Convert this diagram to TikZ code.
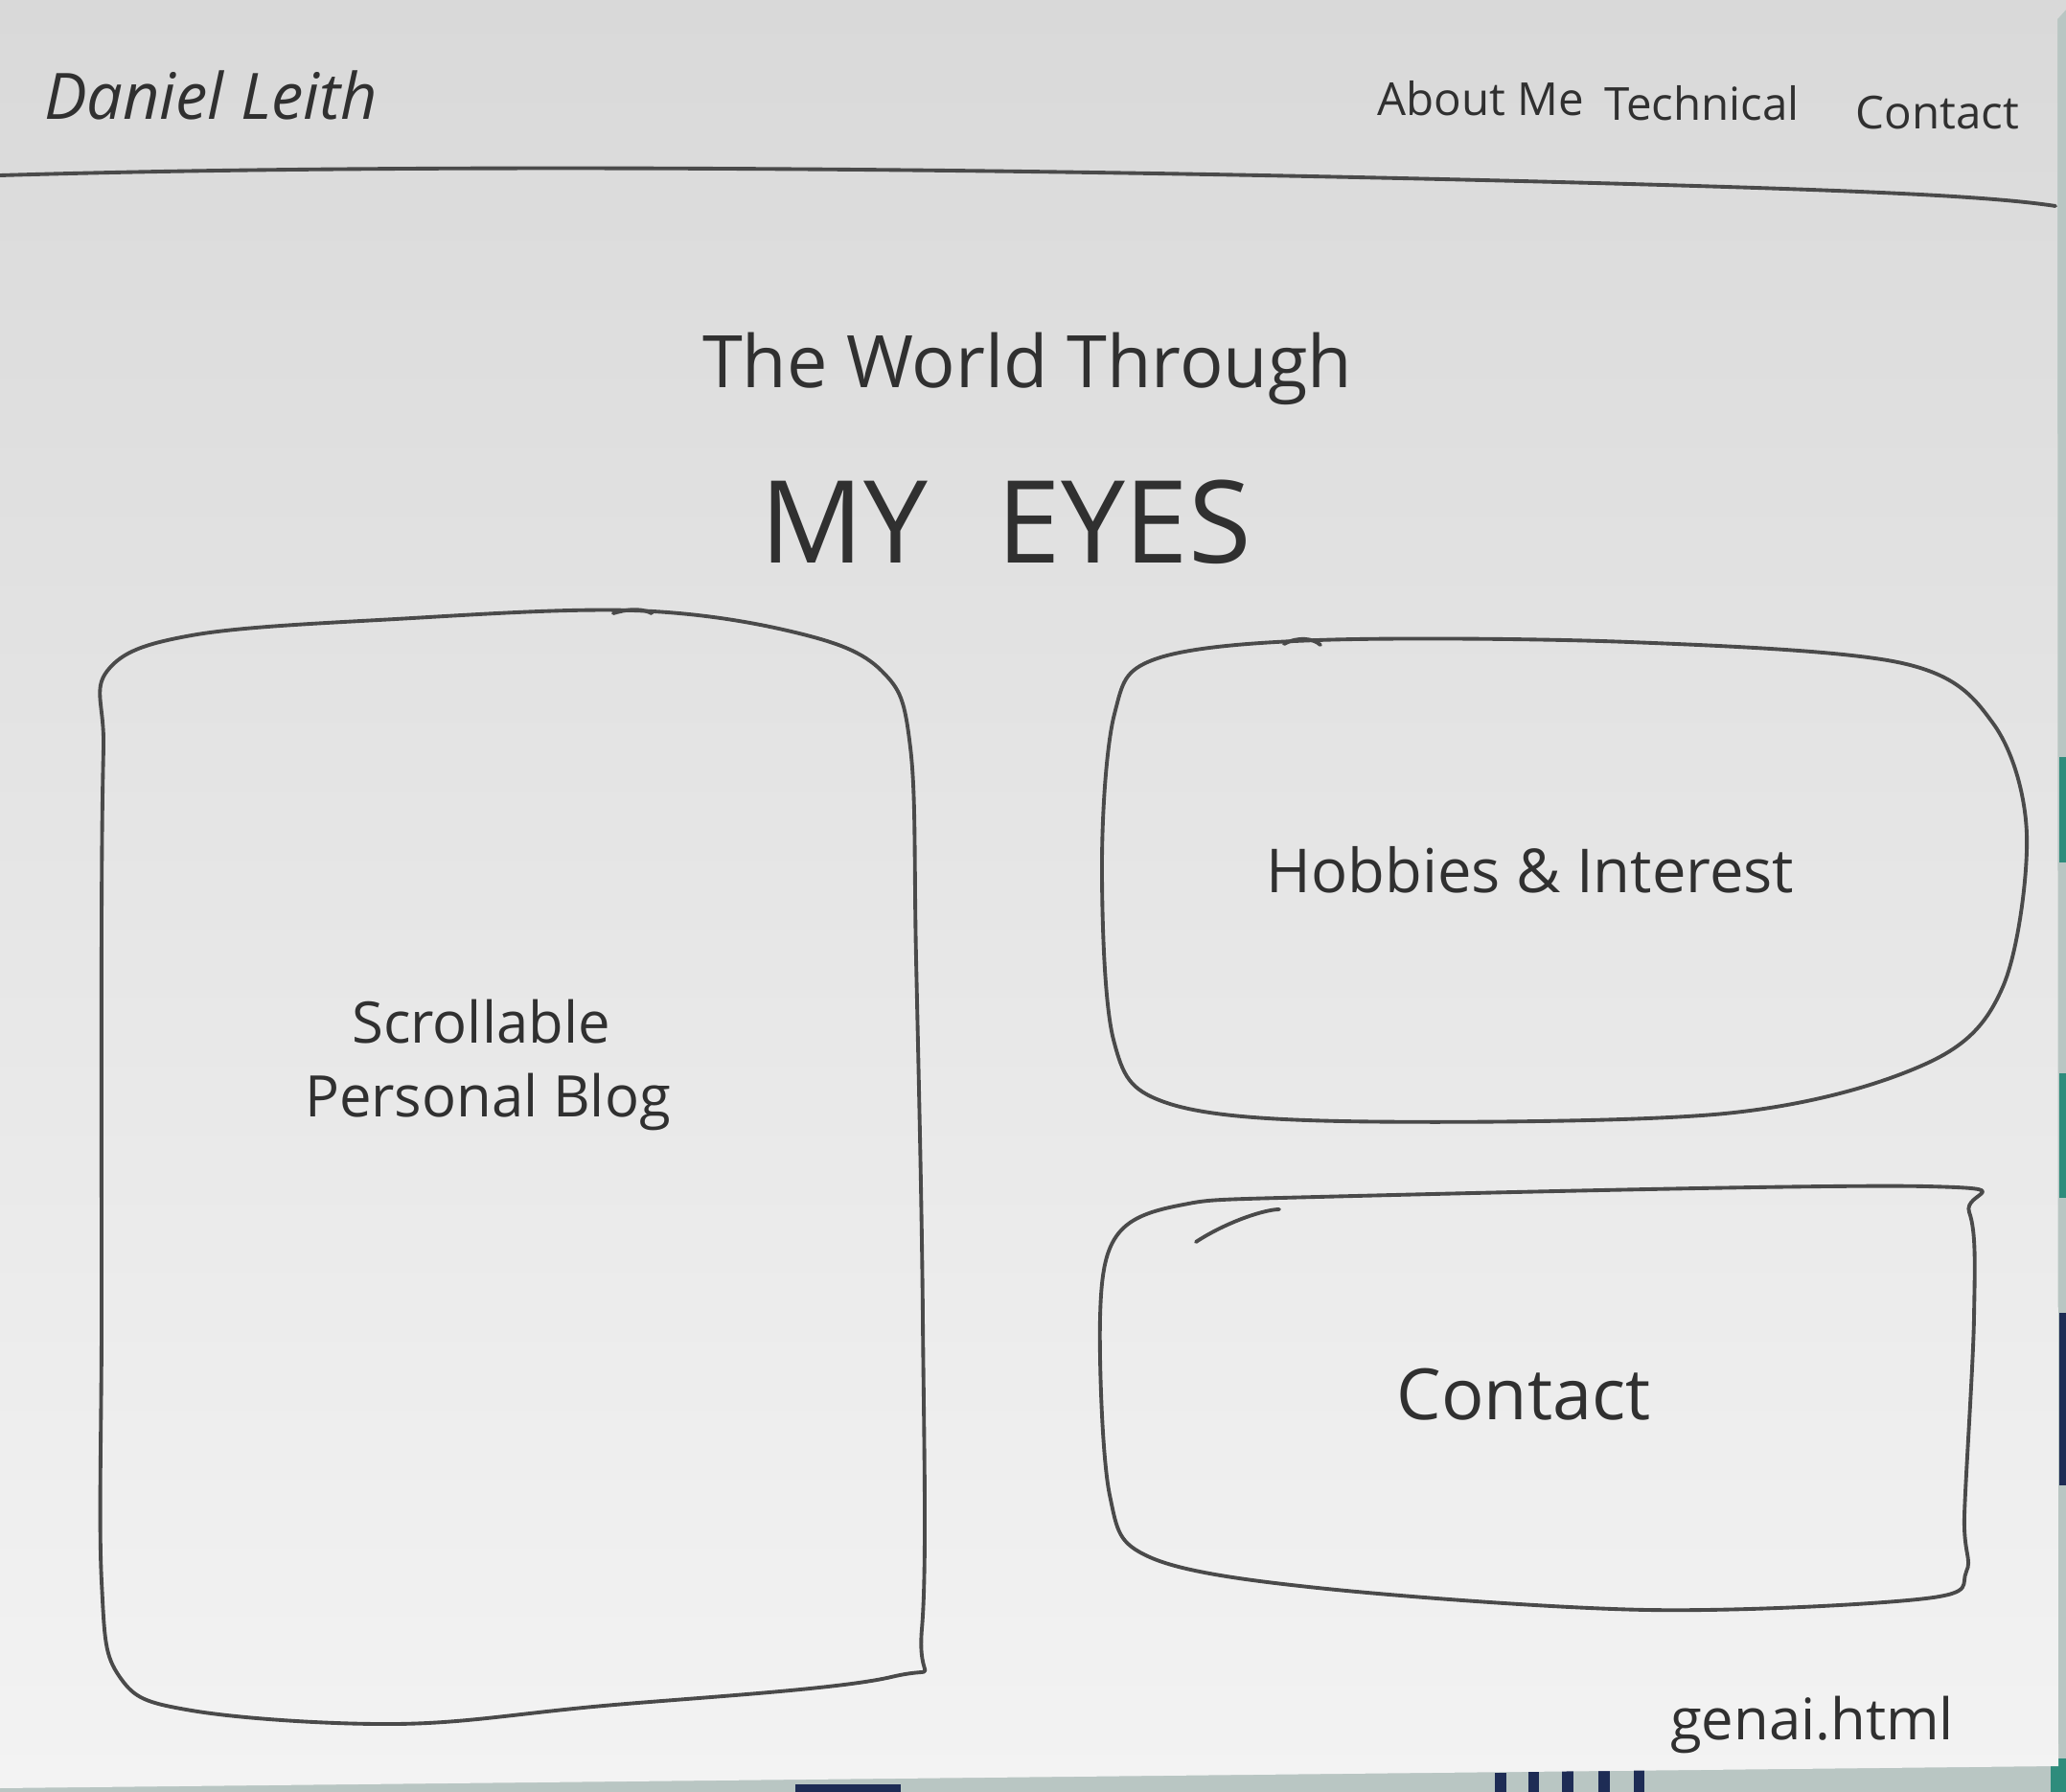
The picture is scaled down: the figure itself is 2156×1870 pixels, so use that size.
\documentclass[tikz,border=0pt]{standalone}
\usepackage{fontspec}
\setmainfont{Open Sans}
\begin{document}
\begin{tikzpicture}[x=0.01cm,y=-0.01cm,
  pencil/.style={draw=pencilgray,line width=1.1pt,line cap=round,line join=round},
  hand/.style={text=inkgray,inner sep=0pt,anchor=center},
  navmark/.style={fill=navyblue},
  tealmark/.style={fill=tealgreen}]
\definecolor{pencilgray}{HTML}{4A4A4A}
\definecolor{inkgray}{HTML}{303030}
\definecolor{desk}{HTML}{B9C6C3}
\definecolor{navyblue}{HTML}{1E2C55}
\definecolor{tealgreen}{HTML}{2E8C7C}
\definecolor{papertop}{HTML}{D9D9D9}
\definecolor{paperbot}{HTML}{F3F3F3}
\useasboundingbox (0,0) rectangle (2156,1870);
% desk surface under the sheet
\fill[desk] (0,0) rectangle (2156,1870);
\fill[navmark] (1560,1850) rectangle (1572,1870);
\fill[navmark] (1595,1848) rectangle (1606,1870);
\fill[navmark] (1630,1846) rectangle (1642,1870);
\fill[navmark] (1668,1845) rectangle (1680,1870);
\fill[navmark] (1705,1845) rectangle (1716,1870);
\fill[navmark] (830,1862) rectangle (940,1870);
\fill[tealmark] (2149,790) rectangle (2156,900);
\fill[tealmark] (2149,1120) rectangle (2156,1250);
\fill[navmark] (2149,1370) rectangle (2156,1550);
\fill[tealmark] (2140,1835) rectangle (2156,1870);
% the sheet of paper
\shade[top color=papertop,bottom color=paperbot]
  (0,0) -- (2156,0) -- (2156,10) -- (2147,20) -- (2148,1843) -- (0,1866) -- cycle;
% header rule
\draw[pencil] (0,183) .. controls (500,168) and (1200,178) .. (1700,192)
  .. controls (1950,199) and (2080,205) .. (2145,215);
% header texts
\node[hand,font=\itshape\fontsize{19}{22}\selectfont] (sig) at (220,99) {Daniel Leith};
\node[hand,font=\fontsize{13.5}{16}\selectfont] (navabout) at (1545,103) {About Me};
\node[hand,font=\fontsize{13.5}{16}\selectfont] (navtech) at (1776,108) {Technical};
\node[hand,font=\fontsize{13.5}{16}\selectfont] (navcontact) at (2022,118) {Contact};
% page title
\node[hand,font=\fontsize{21.5}{26}\selectfont] (title1) at (1072,385) {The World Through};
\node[hand,font=\fontsize{34}{40}\selectfont] (title2) at (1050,545) {MY\hspace{0.6em}EYES};
% blog column
\draw[pencil] plot[smooth cycle,tension=0.6] coordinates {
  (112,700) (200,663) (413,646) (660,637) (830,660) (920,700) (950,780)
  (956,1000) (963,1375) (962,1700) (930,1750) (619,1781) (413,1799)
  (200,1785) (125,1750) (106,1650) (106,1375) (106,963) (108,780)};
\draw[pencil] (640,640) .. controls (660,634) and (672,636) .. (680,640);
\node[hand,font=\fontsize{17}{20}\selectfont] (blog1) at (502,1066) {Scrollable};
\node[hand,font=\fontsize{17}{20}\selectfont] (blog2) at (509,1150) {Personal Blog};
% hobbies card
\draw[pencil] plot[smooth cycle,tension=0.55] coordinates {
  (1205,688) (1375,668) (1700,670) (1985,692) (2080,755) (2115,870)
  (2090,1030) (2010,1110) (1800,1162) (1400,1170) (1215,1150) (1162,1085)
  (1150,900) (1163,745)};
\draw[pencil] (1340,672) .. controls (1355,664) and (1370,666) .. (1378,673);
\node[hand,font=\fontsize{18}{21}\selectfont] (hobbies) at (1597,908) {Hobbies \& Interest};
% contact card
\draw[pencil] plot[smooth cycle,tension=0.55] coordinates {
  (1165,1290) (1230,1258) (1375,1249) (2010,1238) (2055,1265) (2060,1375)
  (2050,1581) (2052,1640) (2010,1668) (1719,1680) (1375,1657) (1200,1625)
  (1158,1560) (1148,1375)};
\draw[pencil] (1248,1296) .. controls (1280,1275) and (1320,1262) .. (1335,1262);
\node[hand,font=\fontsize{21}{24}\selectfont] (contact) at (1590,1455) {Contact};
% file name
\node[hand,font=\fontsize{17}{20}\selectfont] (fname) at (1891,1800) {genai.html};
\end{tikzpicture}
\end{document}
